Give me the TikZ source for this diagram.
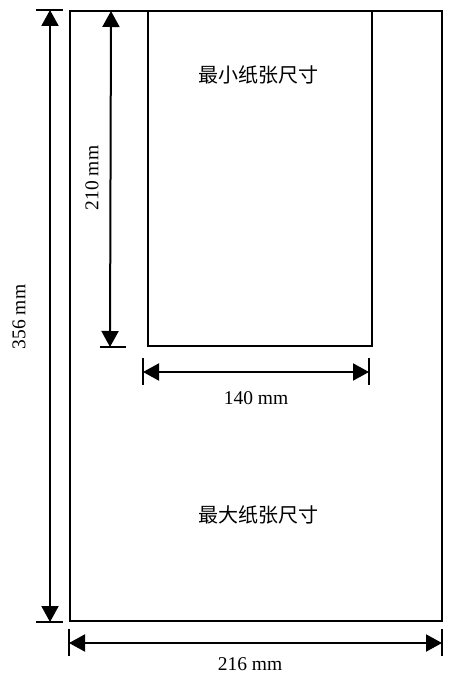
\documentclass[tikz,border=0pt]{standalone}
\usepackage{fontspec}
\setmainfont{Liberation Serif}
\newfontfamily\cjk{Noto Sans CJK SC}
\usetikzlibrary{
		calc,
		positioning,
		arrows.meta
	}
\tikzset{
		>={Triangle[length=16pt, width=17pt]}
	}

\begin{document}
\begin{tikzpicture}[x=1pt, y=-1pt,
					paper/.style={draw, rectangle, inner sep=0pt, line width=2pt},
					dimline/.style={<->, line width=2pt},
					dimtick/.style={line width=2pt},
					dimlabel/.style={font=\fontsize{19.5}{22}\selectfont},
					sizetext/.style={font=\cjk\fontsize{20}{22}\selectfont}]
		\useasboundingbox (0,0) rectangle (456,679);
		% paper sheets
		\node[paper, minimum width=372pt, minimum height=610pt] (maxpaper) at (256,316) {};
		\node[paper, minimum width=224pt, minimum height=335pt] (minpaper) at (260,178.5) {};
		\node[sizetext] (mintext) at (258,75) {最小纸张尺寸};
		\node[sizetext] (maxtext) at (258,515) {最大纸张尺寸};
		% 356 mm
		\coordinate (bigtop) at ($(maxpaper.north west)+(-19,0)$);
		\coordinate (bigbot) at ($(maxpaper.south west)+(-19,0)$);
		\draw[dimline] (bigtop) -- (bigbot);
		\draw[dimtick] ($(bigtop)+(-14,0)$) -- ($(bigtop)+(13,0)$);
		\draw[dimtick] ($(bigbot)+(-14,0)$) -- ($(bigbot)+(13,0)$);
		\node[dimlabel, rotate=90] (biglen) at (19,317) {356 mm};
		% 210 mm
		\coordinate (smalltop) at (111,11);
		\coordinate (smallbot) at ($(minpaper.south west)+(-37,0)$);
		\draw[dimline] (smalltop) -- (smallbot);
		\draw[dimtick] ($(smallbot)+(-10,0)$) -- ($(smallbot)+(16,0)$);
		\node[dimlabel, rotate=90] (smalllen) at (92,178) {210 mm};
		% 140 mm
		\coordinate (smallleft) at (143,372);
		\coordinate (smallright) at (369,372);
		\draw[dimline] (smallleft) -- (smallright);
		\draw[dimtick] ($(smallleft)+(0,-14)$) -- ($(smallleft)+(0,13)$);
		\draw[dimtick] ($(smallright)+(0,-14)$) -- ($(smallright)+(0,13)$);
		\node[dimlabel] (smallwid) at (256,398) {140 mm};
		% 216 mm
		\coordinate (bigleft) at ($(maxpaper.south west)+(0,21)$);
		\coordinate (bigright) at ($(maxpaper.south east)+(-1,21)$);
		\draw[dimline] (bigleft) -- (bigright);
		\draw[dimtick] ($(bigleft)+(0,-14)$) -- ($(bigleft)+(0,13)$);
		\draw[dimtick] ($(bigright)+(0,-14)$) -- ($(bigright)+(0,13)$);
		\node[dimlabel] (bigwid) at (250,664) {216 mm};
	\end{tikzpicture}
\end{document}
